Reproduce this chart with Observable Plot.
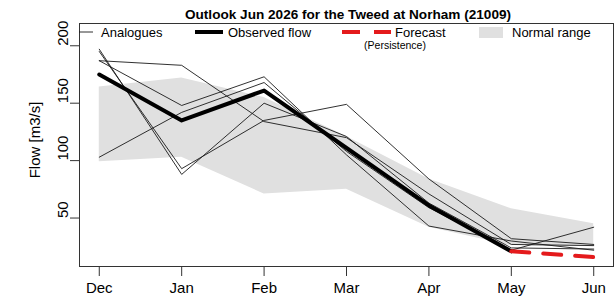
<!DOCTYPE html>
<html>
<head>
<meta charset="utf-8">
<script src="https://cdn.jsdelivr.net/npm/d3@7"></script>
<script src="https://cdn.jsdelivr.net/npm/@observablehq/plot@0.6"></script>
<style>
  html, body { margin: 0; padding: 0; background: #fff; }
  svg { display: block; }
</style>
</head>
<body>
<div id="chart"></div>
<script>
const months = ["Dec", "Jan", "Feb", "Mar", "Apr", "May", "Jun"];
const yTicks = [50, 100, 150, 200];

const observed = [175, 135, 161, 111, 61, 21];          // Dec..May
const forecast = [21, 16];                               // May..Jun (persistence)
const forecastMonths = ["May", "Jun"];

const normalLow  = [99, 103, 71, 75, 42, 26, 25];
const normalHigh = [164, 172, 155, 121, 84, 58, 45];

const analogue1 = [197, 88, 150, 121, 63, 24, 23];
const analogue2 = [195, 93, 135, 149, 84, 32, 27];
const analogue3 = [187, 183, 134, 120, 71, 27, 26];
const analogue4 = [187, 148, 173, 105, 43, 30, 22];
const analogue5 = [103, 142, 168, 108, 59, 22, 42];
const analogues = [analogue1, analogue2, analogue3, analogue4, analogue5];

const title = "Outlook Jun 2026 for the Tweed at Norham (21009)";
const yLabel = "Flow [m3/s]";

// tables
const idx = m => months.indexOf(m);
const normalTable = months.map((m, i) => ({x: i, lo: normalLow[i], hi: normalHigh[i]}));
const analogueTable = analogues.flatMap((s, k) => s.map((v, i) => ({x: i, y: v, s: k})));
const observedTable = observed.map((v, i) => ({x: i, y: v}));
const forecastTable = forecast.map((v, i) => ({x: idx(forecastMonths[i]), y: v}));

const font = "'Liberation Sans', Arial, sans-serif";

const plot = Plot.plot({
  width: 614,
  height: 301,
  marginLeft: 79,
  marginRight: 1,
  marginTop: 23,
  marginBottom: 35,
  style: {fontFamily: font, background: "#fff", color: "#000"},
  x: {domain: [-0.24, 6.24], label: null},
  y: {domain: [7.8, 219.4], label: null},
  marks: [
    Plot.areaY(normalTable, {x: "x", y1: "lo", y2: "hi", fill: "#e0e0e0"}),
    Plot.line(analogueTable, {x: "x", y: "y", z: "s", stroke: "#1a1a1a", strokeWidth: 0.9}),
    Plot.line(observedTable, {x: "x", y: "y", stroke: "#000", strokeWidth: 4, strokeLinejoin: "round"}),
    Plot.line(forecastTable, {x: "x", y: "y", stroke: "#e41a1c", strokeWidth: 4, strokeDasharray: "18,14"}),
    Plot.axisX({ticks: d3.range(months.length), tickFormat: i => months[i], tickSize: 10, tickPadding: 6, fontSize: 15, stroke: "#333", label: null}),
    Plot.axisY({ticks: yTicks, tickSize: 9, tickFormat: () => "", stroke: "#333", label: null}),
    Plot.text(yTicks, {y: d => d, text: d => String(d), frameAnchor: "left", dx: -16, rotate: -90, fontSize: 15, fill: "#000"}),
    Plot.frame({stroke: "#333", strokeWidth: 1})
  ]
});

const svg = d3.select(plot);

// title
svg.append("text").attr("x", 348).attr("y", 18.5).attr("text-anchor", "middle")
  .attr("font-family", font).attr("font-weight", "bold").attr("font-size", 13.6).attr("fill", "#000").text(title);

// y label
svg.append("text").attr("transform", "translate(40,140) rotate(-90)").attr("text-anchor", "middle")
  .attr("font-family", font).attr("font-size", 15).attr("fill", "#000").text(yLabel);

// legend
const lg = svg.append("g").attr("font-family", font).attr("font-size", 13).attr("fill", "#000").attr("text-anchor", "start");
lg.append("line").attr("x1", 79).attr("x2", 93).attr("y1", 32).attr("y2", 32).attr("stroke", "#1a1a1a").attr("stroke-width", 0.9);
lg.append("text").attr("x", 101).attr("y", 36.5).text("Analogues");
lg.append("line").attr("x1", 195).attr("x2", 223).attr("y1", 32).attr("y2", 32).attr("stroke", "#000").attr("stroke-width", 4);
lg.append("text").attr("x", 228).attr("y", 36.5).text("Observed flow");
lg.append("line").attr("x1", 342).attr("x2", 391).attr("y1", 32).attr("y2", 32).attr("stroke", "#e41a1c").attr("stroke-width", 4).attr("stroke-dasharray", "18,14");
lg.append("text").attr("x", 395).attr("y", 36.5).text("Forecast");
lg.append("text").attr("x", 395).attr("y", 48.5).attr("text-anchor", "middle").attr("font-size", 10.5).text("(Persistence)");
lg.append("rect").attr("x", 479).attr("y", 27).attr("width", 24).attr("height", 11).attr("fill", "#e0e0e0");
lg.append("text").attr("x", 512).attr("y", 36.5).text("Normal range");

document.getElementById("chart").appendChild(plot);
</script>
</body>
</html>
